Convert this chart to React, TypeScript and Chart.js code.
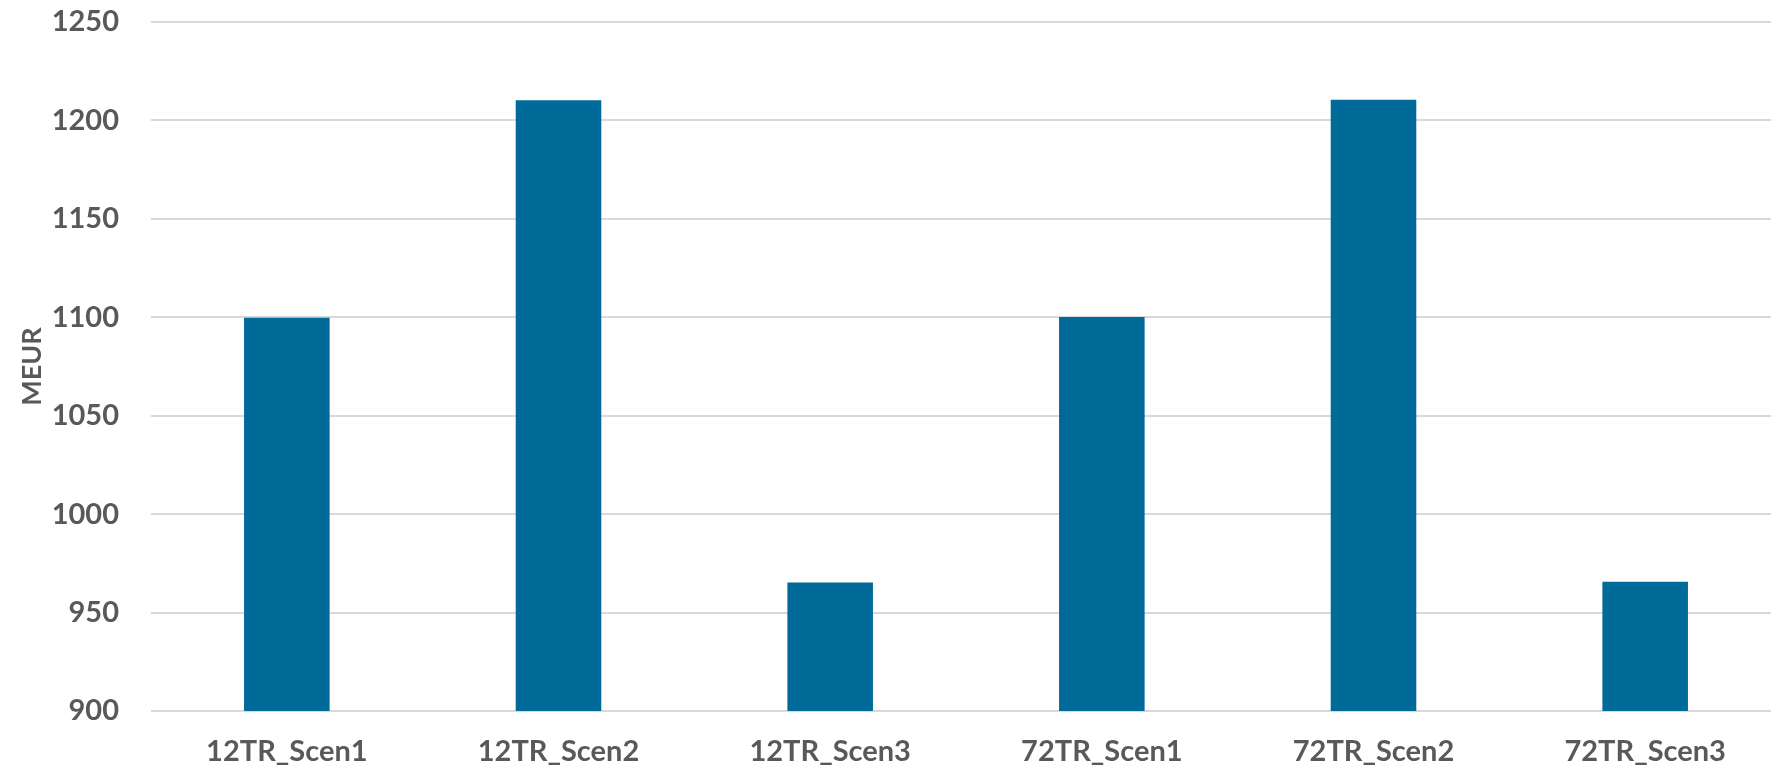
import React, { useEffect, useRef } from "react";
import { Chart, registerables } from "chart.js";

Chart.register(...registerables);

const categories = ["12TR_Scen1", "12TR_Scen2", "12TR_Scen3", "72TR_Scen1", "72TR_Scen2", "72TR_Scen3"];
const meurValues = [1099.8, 1210.2, 965.3, 1100.2, 1210.5, 965.6];
const yMin = 900;
const yMax = 1250;
const yStep = 50;
const yTitle = "MEUR";

export default function App() {
  const ref = useRef<HTMLCanvasElement | null>(null);

  useEffect(() => {
    if (!ref.current) return;
    const font = "Lato, 'Open Sans', sans-serif";
    const chart = new Chart(ref.current, {
      type: "bar",
      data: {
        labels: categories,
        datasets: [
          {
            label: yTitle,
            data: meurValues,
            backgroundColor: "#006A99",
            borderWidth: 0,
            categoryPercentage: 1,
            barPercentage: 0.315,
          },
        ],
      },
      options: {
        animation: false,
        responsive: false,
        devicePixelRatio: 1,
        layout: { padding: { top: 22, left: 0, right: 0, bottom: 0 } },
        plugins: {
          legend: { display: false },
          tooltip: { enabled: false },
        },
        scales: {
          x: {
            grid: { display: false, drawTicks: false },
            border: { display: false },
            afterFit: (scale: any) => {
              scale.height = 58;
              scale.paddingTop = 0;
              scale.paddingBottom = 0;
            },
            ticks: {
              color: "#595959",
              padding: 23,
              maxRotation: 0,
              autoSkip: false,
              font: { family: font, size: 29, weight: "bold", lineHeight: 1.2 },
            },
          },
          y: {
            min: yMin,
            max: yMax,
            border: { display: false },
            grid: { color: "#d9d9d9", lineWidth: 2, drawTicks: false },
            afterFit: (scale: any) => {
              scale.width = 151;
              scale.paddingTop = 0;
              scale.paddingBottom = 0;
            },
            ticks: {
              stepSize: yStep,
              color: "#595959",
              padding: 32,
              callback: (v: any) => String(v),
              font: { family: font, size: 29, weight: "bold", lineHeight: 1.2 },
            },
            title: {
              display: true,
              text: yTitle,
              color: "#595959",
              padding: { top: 16, bottom: 0 },
              font: { family: font, size: 27, weight: "bold", lineHeight: 1.2 },
            },
          },
        },
      },
    });
    return () => chart.destroy();
  }, []);

  return (
    <div
      style={{
        position: "fixed",
        left: 0,
        top: 0,
        width: "100vw",
        height: "100vh",
        overflow: "hidden",
        background: "#ffffff",
      }}
    >
      <canvas ref={ref} width={1781} height={769} style={{ display: "block" }} />
    </div>
  );
}
